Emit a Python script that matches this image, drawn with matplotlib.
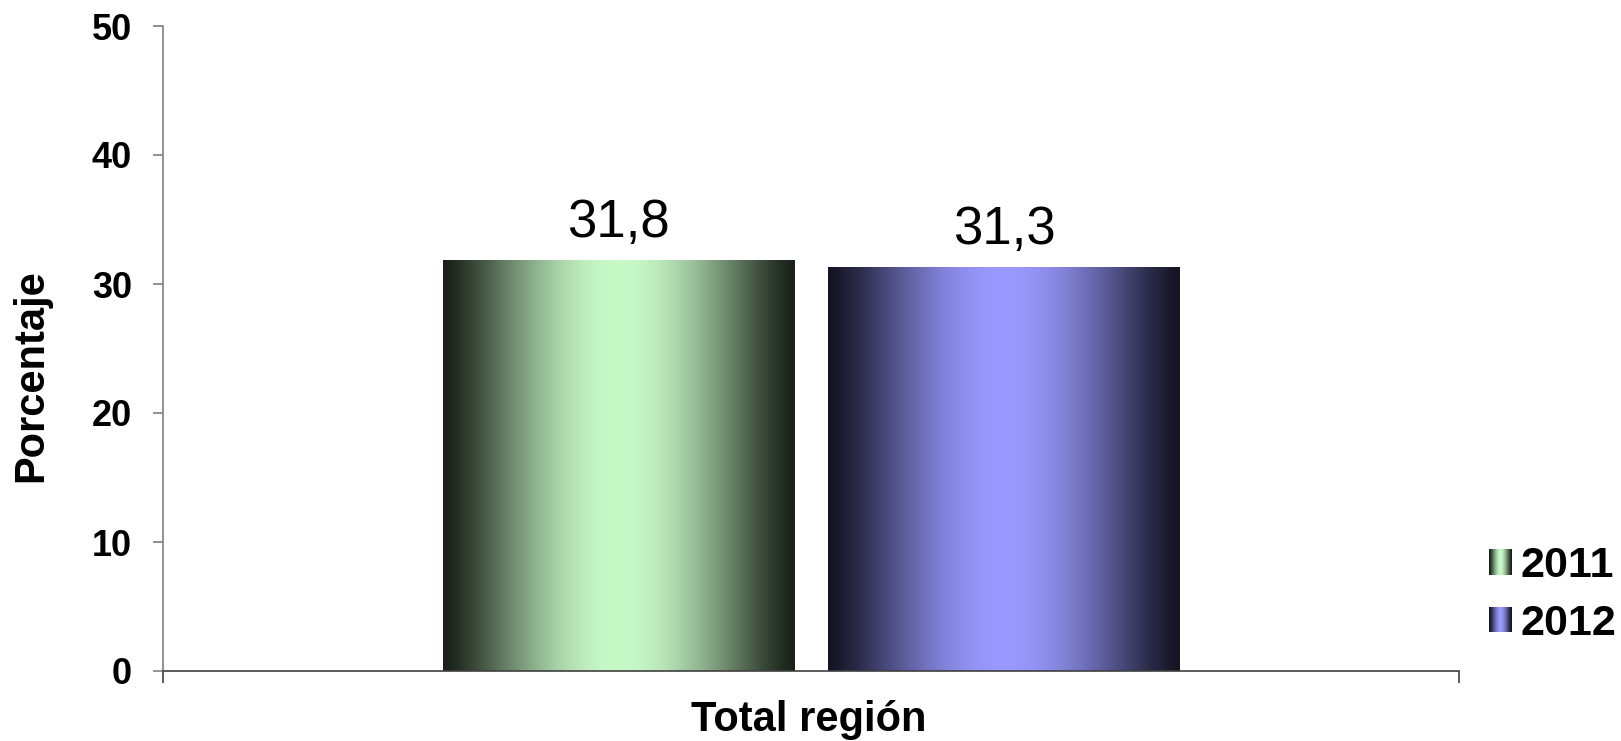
import numpy as np
import matplotlib
matplotlib.use("Agg")
import matplotlib.pyplot as plt
from matplotlib.patches import Rectangle
from matplotlib.legend_handler import HandlerBase

# data
categories = ["Total región"]
years = ["2011", "2012"]
values = [31.8, 31.3]
yticks = [0, 10, 20, 30, 40, 50]

# colours: (dark edge, light centre)
shades = [((0.10, 0.13, 0.10), (0.784, 0.980, 0.784)),
          ((0.08, 0.08, 0.14), (0.600, 0.600, 1.000))]

plt.rcParams['font.family'] = ['Liberation Sans', 'DejaVu Sans']


def ramp(dark, light, n=200):
    u = np.linspace(0, 1, n)
    f = np.sin(np.pi * u) ** 1.3
    dark, light = np.array(dark), np.array(light)
    return dark[None, :] + (light - dark)[None, :] * f[:, None]


class GradientHandler(HandlerBase):
    def __init__(self, dark, light):
        super().__init__()
        self.cols = ramp(dark, light, 24)

    def create_artists(self, legend, orig_handle, xdescent, ydescent,
                       width, height, fontsize, trans):
        n = len(self.cols)
        w = width / n
        arts = []
        for i, c in enumerate(self.cols):
            arts.append(Rectangle((-xdescent + i * w, -ydescent), w * 1.05, height,
                                  facecolor=c, edgecolor='none', transform=trans))
        return arts


fig = plt.figure(figsize=(16.21, 7.41), dpi=100)
ax = fig.add_axes([163 / 1621, 70 / 741, 1296 / 1621, 645 / 741])

width = 0.271
offsets = [-0.1485, 0.149]
handles = []
for i, (yr, v) in enumerate(zip(years, values)):
    x = offsets[i]
    b = ax.bar(x, v, width, color='none', edgecolor='none', label=yr)
    handles.append(b[0])
    grad = ramp(*shades[i])[None, :, :]
    ax.imshow(grad, extent=(x - width / 2, x + width / 2, 0, v),
              aspect='auto', interpolation='bilinear', zorder=2)
    ax.annotate(f"{v:.1f}".replace('.', ','), (x, v), xytext=(0, 17),
                textcoords='offset points', ha='center', va='baseline',
                fontsize=38)

ax.set_xlim(-0.5, 0.5)
ax.set_ylim(0, 50)
ax.set_yticks(yticks)
ax.set_yticklabels([str(t) for t in yticks], fontsize=26, fontweight='bold')
ax.set_xticks([-0.5, 0.5])
ax.set_xticklabels(['', ''])
ax.tick_params(axis='y', length=7.2, width=1.2, color='#808080', pad=15)
ax.tick_params(axis='x', length=8.6, width=1.2, color='#404040')
for s in ['top', 'right']:
    ax.spines[s].set_visible(False)
ax.spines['left'].set_color('#808080')
ax.spines['left'].set_linewidth(1.2)
ax.spines['bottom'].set_color('#404040')
ax.spines['bottom'].set_linewidth(1.2)

ax.set_ylabel("Porcentaje", fontsize=30, fontweight='bold')
ax.yaxis.set_label_coords(-0.0864, 0.458)
ax.set_xlabel(categories[0], fontsize=30, fontweight='bold')
ax.xaxis.set_label_coords(0.4985, -0.045)

leg = fig.legend(handles, years, loc='center left',
                 bbox_to_anchor=(1489 / 1621, 1 - 595 / 741),
                 frameon=False, prop={'size': 31, 'weight': 'bold'},
                 handlelength=0.53, handleheight=0.53, handletextpad=0.2,
                 labelspacing=0.4, borderaxespad=0, borderpad=0,
                 handler_map={handles[0]: GradientHandler(*shades[0]),
                              handles[1]: GradientHandler(*shades[1])})

fig.savefig("out.png", dpi=100)
